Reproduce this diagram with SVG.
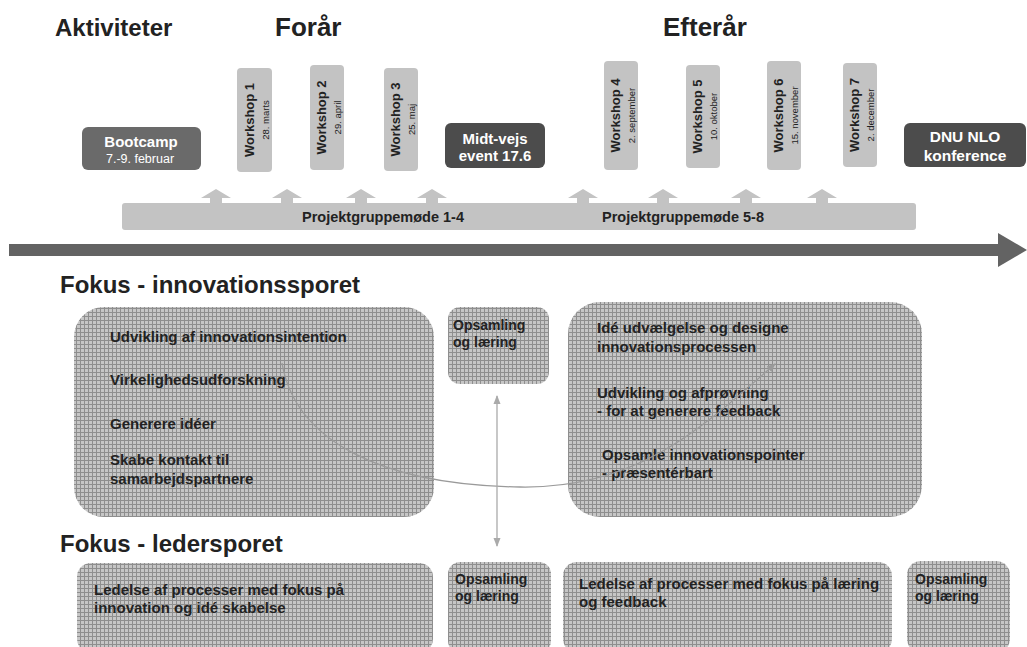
<svg xmlns="http://www.w3.org/2000/svg" width="1027" height="647" viewBox="0 0 1027 647">
<style>
text{font-family:"Liberation Sans",Arial,sans-serif}
.title{font-weight:bold;fill:#222}
.ws{fill:#c3c3c3}
.wt{font-weight:bold;font-size:13px;fill:#222;text-anchor:middle}
.wd{font-size:9.5px;fill:#222;text-anchor:middle}
.dark{fill:#4c4c4c}
.wtxt{font-weight:bold;fill:#fff;text-anchor:middle}
.bt{font-weight:bold;font-size:15px;fill:#222}
.bs{font-weight:bold;font-size:14px;fill:#222}
.pat{fill:url(#grid)}
.up{fill:#c3c3c3}
.conn{fill:none;stroke:#9a9a9a;stroke-width:1.3}
</style>
<defs>
<pattern id="grid" patternUnits="userSpaceOnUse" width="4" height="4">
<rect width="4" height="4" fill="#c6c6c6"/>
<path d="M0,0.5H4M0.5,0V4" stroke="#8e8e8e" stroke-width="1"/>
</pattern>
<marker id="ah" markerWidth="10" markerHeight="10" refX="8" refY="5" orient="auto" markerUnits="userSpaceOnUse">
<path d="M0,1.5L9,5L0,8.5Z" fill="#9a9a9a"/>
</marker>
<marker id="ahs" markerWidth="10" markerHeight="10" refX="8" refY="5" orient="auto-start-reverse" markerUnits="userSpaceOnUse">
<path d="M0,1.5L9,5L0,8.5Z" fill="#aaa"/>
</marker>
</defs>
<rect width="1027" height="647" fill="#fff"/>

<text class="title" x="55" y="36" font-size="24">Aktiviteter</text>
<text class="title" x="275" y="36" font-size="26">Forår</text>
<text class="title" x="663" y="36" font-size="26">Efterår</text>

<g id="timeline">
<rect x="9" y="244" width="992" height="12" fill="#636363"/>
<polygon points="998,233 1027,250 998,267" fill="#636363"/>
</g>

<g id="projektbar">
<rect x="122" y="203" width="794" height="27" rx="3" fill="#c3c3c3"/>
<g class="up">
<polygon points="216,189 231,198 222,198 222,204 210,204 210,198 201,198"/>
<polygon points="287,189 302,198 293,198 293,204 281,204 281,198 272,198"/>
<polygon points="361,189 376,198 367,198 367,204 355,204 355,198 346,198"/>
<polygon points="432,189 447,198 438,198 438,204 426,204 426,198 417,198"/>
<polygon points="583,189 598,198 589,198 589,204 577,204 577,198 568,198"/>
<polygon points="663,189 678,198 669,198 669,204 657,204 657,198 648,198"/>
<polygon points="746,189 761,198 752,198 752,204 740,204 740,198 731,198"/>
<polygon points="822,189 837,198 828,198 828,204 816,204 816,198 807,198"/>
</g>
<text x="383" y="222" font-size="14.5" font-weight="bold" fill="#222" text-anchor="middle">Projektgruppemøde 1-4</text>
<text x="683" y="222" font-size="14.5" font-weight="bold" fill="#222" text-anchor="middle">Projektgruppemøde 5-8</text>
</g>

<g id="bootcamp">
<rect x="82" y="127" width="119" height="43" rx="6" fill="#6a6a6a"/>
<text class="wtxt" x="141" y="147" font-size="15">Bootcamp</text>
<text x="140" y="163" font-size="12.5" fill="#fff" text-anchor="middle">7.-9. februar</text>
</g>

<g id="workshop1">
<rect class="ws" x="237" y="68" width="35" height="104" rx="4"/>
<g transform="translate(254.5,120) rotate(-90)"><text class="wt" x="0" y="-1">Workshop 1</text><text class="wd" x="0" y="14">28. marts</text></g>
</g>
<g id="workshop2">
<rect class="ws" x="310" y="65" width="34" height="105" rx="4"/>
<g transform="translate(327,117.5) rotate(-90)"><text class="wt" x="0" y="-1">Workshop 2</text><text class="wd" x="0" y="14">29. april</text></g>
</g>
<g id="workshop3">
<rect class="ws" x="384" y="68" width="34" height="103" rx="4"/>
<g transform="translate(401,119.5) rotate(-90)"><text class="wt" x="0" y="-1">Workshop 3</text><text class="wd" x="0" y="14">25. maj</text></g>
</g>

<g id="midtvejs">
<rect class="dark" x="445" y="123" width="100" height="45" rx="6"/>
<text class="wtxt" x="495" y="144" font-size="15">Midt-vejs</text>
<text class="wtxt" x="495" y="161" font-size="15">event 17.6</text>
</g>

<g id="workshop4">
<rect class="ws" x="604" y="61" width="34" height="109" rx="4"/>
<g transform="translate(621,115.5) rotate(-90)"><text class="wt" x="0" y="-1">Workshop 4</text><text class="wd" x="0" y="14">2. september</text></g>
</g>
<g id="workshop5">
<rect class="ws" x="686" y="65" width="34" height="103" rx="4"/>
<g transform="translate(703,116.5) rotate(-90)"><text class="wt" x="0" y="-1">Workshop 5</text><text class="wd" x="0" y="14">10. oktober</text></g>
</g>
<g id="workshop6">
<rect class="ws" x="767" y="61" width="34" height="109" rx="4"/>
<g transform="translate(784,115.5) rotate(-90)"><text class="wt" x="0" y="-1">Workshop 6</text><text class="wd" x="0" y="14">15. november</text></g>
</g>
<g id="workshop7">
<rect class="ws" x="843" y="63" width="34" height="104" rx="4"/>
<g transform="translate(860,115) rotate(-90)"><text class="wt" x="0" y="-1">Workshop 7</text><text class="wd" x="0" y="14">2. december</text></g>
</g>

<g id="dnunlo">
<rect class="dark" x="904" y="123" width="122" height="44" rx="6"/>
<text class="wtxt" x="965" y="142" font-size="15.5">DNU NLO</text>
<text class="wtxt" x="965" y="161" font-size="15.5">konference</text>
</g>

<text class="title" x="60" y="293" font-size="24">Fokus - innovationssporet</text>

<g id="innovation1">
<rect class="pat" x="74" y="307" width="360" height="210" rx="30"/>
<text class="bt" x="110" y="342">Udvikling af innovationsintention</text>
<text class="bt" x="110" y="385">Virkelighedsudforskning</text>
<text class="bt" x="110" y="429">Generere idéer</text>
<text class="bt" x="110" y="465">Skabe kontakt til</text>
<text class="bt" x="110" y="484">samarbejdspartnere</text>
</g>

<g id="opsamling1">
<rect class="pat" x="448" y="307" width="101" height="77" rx="12"/>
<text class="bs" x="453" y="330">Opsamling</text>
<text class="bs" x="453" y="347">og læring</text>
</g>

<g id="innovation2">
<rect class="pat" x="568" y="302" width="354" height="215" rx="32"/>
<text class="bt" x="597" y="333">Idé udvælgelse og designe</text>
<text class="bt" x="597" y="352">innovationsprocessen</text>
<text class="bt" x="597" y="398" fill="#4a4a4a">Udvikling og afprøvning</text>
<text class="bt" x="597" y="416" fill="#4a4a4a">- for at generere feedback</text>
<text class="bt" x="602" y="460">Opsamle  innovationspointer</text>
<text class="bt" x="602" y="478">- præsentérbart</text>
</g>

<text class="title" x="60" y="552" font-size="24">Fokus - ledersporet</text>

<g id="leder1">
<rect class="pat" x="77" y="563" width="356" height="90" rx="14"/>
<text class="bt" x="94" y="595">Ledelse af processer med fokus på</text>
<text class="bt" x="94" y="613">innovation og idé skabelse</text>
</g>
<g id="opsamling2">
<rect class="pat" x="448" y="562" width="103" height="91" rx="12"/>
<text class="bs" x="455" y="584">Opsamling</text>
<text class="bs" x="455" y="601">og læring</text>
</g>
<g id="leder2">
<rect class="pat" x="563" y="562" width="329" height="91" rx="14"/>
<text class="bt" x="579" y="589">Ledelse af processer med fokus på læring</text>
<text class="bt" x="579" y="607">og feedback</text>
</g>
<g id="opsamling3">
<rect class="pat" x="907" y="561" width="103" height="92" rx="14"/>
<text class="bs" x="915" y="584" font-size="13.5">Opsamling</text>
<text class="bs" x="915" y="601" font-size="13.5">og læring</text>
</g>

<g id="connectors">
<path class="conn" d="M282,363 C295,440 380,485 520,487 C640,489 705,425 775,364" marker-end="url(#ah)"/>
<line x1="497" y1="396" x2="497" y2="546" stroke="#aaa" stroke-width="1.3" marker-start="url(#ahs)" marker-end="url(#ahs)"/>
</g>
</svg>
